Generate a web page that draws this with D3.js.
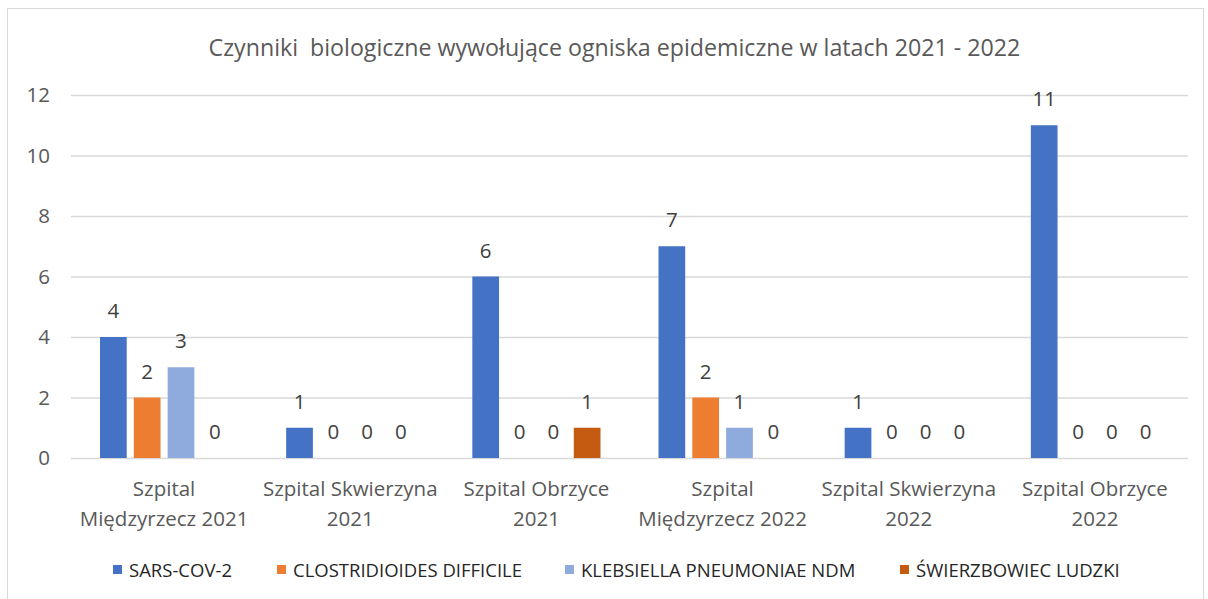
<!DOCTYPE html>
<html><head><meta charset="utf-8">
<script src="https://cdn.jsdelivr.net/npm/d3@7"></script>
<style>body{margin:0;background:#fff}svg{display:block}</style>
</head><body>
<script>
const categories = [
  ["Szpital", "Międzyrzecz 2021"],
  ["Szpital Skwierzyna", "2021"],
  ["Szpital Obrzyce", "2021"],
  ["Szpital", "Międzyrzecz 2022"],
  ["Szpital Skwierzyna", "2022"],
  ["Szpital Obrzyce", "2022"]
];
const seriesNames = ["SARS-COV-2", "CLOSTRIDIOIDES DIFFICILE", "KLEBSIELLA PNEUMONIAE NDM", "ŚWIERZBOWIEC LUDZKI"];
const sarsCov2 = [4, 1, 6, 7, 1, 11];
const clostridioides = [2, 0, 0, 2, 0, 0];
const klebsiella = [3, 0, 0, 1, 0, 0];
const swierzbowiec = [0, 0, 1, 0, 0, 0];
const yTicks = [0, 2, 4, 6, 8, 10, 12];
const colors = ["#4472C4", "#ED7D31", "#8FAADC", "#C55A11"];
const title = "Czynniki  biologiczne wywołujące ogniska epidemiczne w latach 2021 - 2022";

(function () {
const W = 1208, H = 599;
const svg = d3.select("body").append("svg").attr("width", W).attr("height", H);
svg.append("rect").attr("x", 7.5).attr("y", 8.5).attr("width", 1196).attr("height", 600)
  .attr("fill", "#fff").attr("stroke", "#d9d9d9");

const font = "'Open Sans', 'Liberation Sans', Arial, sans-serif";
const pl = 71, pr = 1188, pt = 95, pb = 458;
const seriesValues = [sarsCov2, clostridioides, klebsiella, swierzbowiec];
const catIdx = d3.range(categories.length);

const x0 = d3.scaleBand().domain(catIdx).range([pl, pr]).padding(0);
const x1 = d3.scaleBand().domain(d3.range(seriesNames.length))
  .range([29, x0.bandwidth() - 29]).paddingInner(0.21).paddingOuter(0);
const y = d3.scaleLinear().domain([0, 12]).range([pb, pt]);

svg.append("text").attr("x", (pl + pr) / 2 - 15).attr("y", 56).attr("text-anchor", "middle")
  .attr("font-family", font).attr("font-size", 23.2).attr("fill", "#595959").style("white-space", "pre").text(title);

const yAxis = d3.axisLeft(y).tickValues(yTicks).tickSize(-(pr - pl)).tickPadding(21);
const gy = svg.append("g").attr("transform", `translate(${pl},0)`).call(yAxis);
gy.select(".domain").remove();
gy.selectAll(".tick line").attr("stroke", "#d9d9d9").attr("stroke-width", 1.3);
gy.selectAll(".tick text").attr("font-family", font).attr("font-size", 20.5).attr("fill", "#595959");

const groups = svg.append("g").selectAll("g").data(catIdx).join("g")
  .attr("transform", i => `translate(${x0(i)},0)`);
groups.selectAll("rect").data(i => seriesValues.map((s, k) => ({k, v: s[i]}))).join("rect")
  .attr("x", d => x1(d.k)).attr("width", x1.bandwidth())
  .attr("y", d => y(d.v)).attr("height", d => y(0) - y(d.v))
  .attr("fill", d => colors[d.k]);
groups.selectAll("text").data(i => seriesValues.map((s, k) => ({k, v: s[i]}))).join("text")
  .attr("x", d => x1(d.k) + x1.bandwidth() / 2).attr("y", d => y(d.v) - 19)
  .attr("text-anchor", "middle").attr("font-family", font).attr("font-size", 20.5).attr("fill", "#404040")
  .text(d => d.v);

const xl = svg.append("g");
catIdx.forEach(i => {
  const t = xl.append("text").attr("text-anchor", "middle").attr("font-family", font)
    .attr("font-size", 20.5).attr("fill", "#595959");
  categories[i].forEach((line, j) => {
    t.append("tspan").attr("x", x0(i) + x0.bandwidth() / 2).attr("y", 496 + j * 30).text(line);
  });
});

const legX = [113, 277, 565, 900];
const lg = svg.append("g").selectAll("g").data(seriesNames).join("g")
  .attr("transform", (d, i) => `translate(${legX[i]},0)`);
lg.append("rect").attr("x", 0).attr("y", 565).attr("width", 9).attr("height", 9).attr("fill", (d, i) => colors[i]);
lg.append("text").attr("x", 16).attr("y", 577).attr("font-family", font).attr("font-size", 18.5)
  .attr("fill", "#262626").text(d => d);
})();
</script>
</body></html>
